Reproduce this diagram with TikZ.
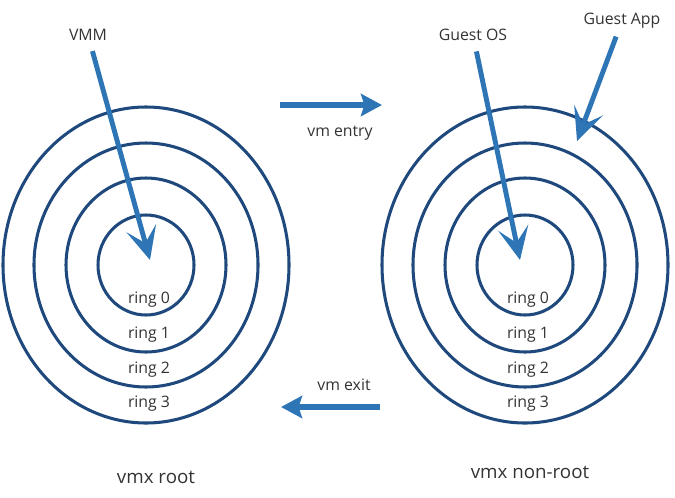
\documentclass[tikz,border=0pt]{standalone}
\usepackage{fontspec}
\setmainfont{Open Sans}
\usetikzlibrary{positioning, arrows.meta, shapes.geometric}
\definecolor{ringblue}{RGB}{31,73,125}
\definecolor{arrowblue}{RGB}{46,117,182}

\tikzset{
  ring/.style={ellipse, draw=ringblue, line width=2.6pt, inner sep=0pt},
  label/.style={font=\fontsize{13.5}{15}\selectfont, text=black!80, inner sep=1pt},
  title/.style={label, font=\fontsize{16}{18}\selectfont},
  push/.style={-{Stealth[length=28pt, width=26pt, inset=13pt]}, draw=arrowblue, line width=4.2pt},
  hop/.style={-{Stealth[length=18pt, width=19pt, inset=3pt]}, draw=arrowblue, line width=5pt}
}

\begin{document}
\begin{tikzpicture}[x=0.03cm, y=-0.03cm]
    \useasboundingbox (0,0) rectangle (675,497);

    % concentric rings, root and non-root
    \foreach \side/\cx in {root/146, guest/525} {
      \foreach \i/\rx/\ry in {0/48/50, 1/80/87, 2/112/122, 3/143/158} {
        \node[ring, minimum width={\rx*0.06cm}, minimum height={\ry*0.06cm}] (\side\i) at (\cx,265) {};
      }
      \node[label] (\side l0) at (\cx+3,300) {ring 0};
      \node[label] (\side l1) at (\cx+3,335) {ring 1};
      \node[label] (\side l2) at (\cx+3,370) {ring 2};
      \node[label] (\side l3) at (\cx+3,404) {ring 3};
    }

    % who runs where
    \node[label] (vmm) at (88,35) {VMM};
    \node[label] (os) at (473,35) {Guest OS};
    \node[label] (app) at (622,21) {Guest App};
    \coordinate (vmmtip) at (150,260);
    \coordinate (ostip) at (520,260);
    \coordinate (apptip) at (577,141);

    \path (vmm) edge [push, shorten <=8pt] (vmmtip)
          (os) edge [push, shorten <=8pt] (ostip)
          (app) edge [push, shorten <=6pt] (apptip);

    % transitions
    \coordinate (entryA) at (280,105);
    \coordinate (entryB) at (382,105);
    \coordinate (exitA) at (380,407);
    \coordinate (exitB) at (281,407);
    \node[label] (entry) at (340,133) {vm entry};
    \node[label] (exit) at (344,385) {vm exit};
    \draw[hop] (entryA) -- (entryB);
    \draw[hop] (exitA) -- (exitB);

    \node[title] (rootname) at (156,477) {vmx root};
    \node[title] (guestname) at (530,472) {vmx non-root};
\end{tikzpicture}
\end{document}
